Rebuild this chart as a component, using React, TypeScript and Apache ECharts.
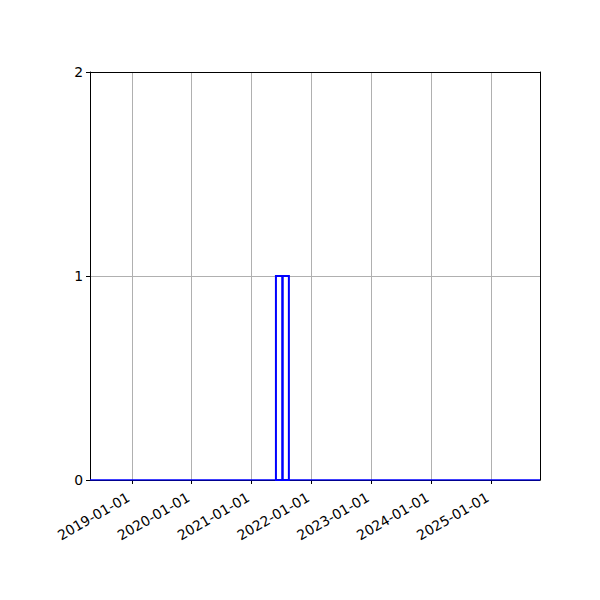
import React, { useEffect, useRef } from "react";
import * as echarts from "echarts";

const xRange = ["2018-04-20", "2025-10-27"];
const binStarts = ["2021-05-29", "2021-07-08"];
const binEnds = ["2021-07-08", "2021-08-16"];
const counts = [1, 1];
const yTicks = [0, 1, 2];

const FONT = "DejaVu Sans";
const GRID = "#b0b0b0";

export default function App() {
  const ref = useRef<HTMLDivElement>(null);
  useEffect(() => {
    document.body.style.margin = "0";
    const chart = echarts.init(ref.current!, null, { renderer: "svg" });
    const barData = binStarts.map((s, i) => [s, binEnds[i], counts[i]]);
    const YEAR = 365 * 24 * 3600 * 1000;
    chart.setOption({
      animation: false,
      backgroundColor: "#fff",
      grid: { left: 90, right: 60, top: 72, bottom: 120 },
      xAxis: [
        {
          type: "time",
          min: xRange[0],
          max: xRange[1],
          minInterval: YEAR,
          maxInterval: YEAR * 1.01,
          axisLine: { show: true, onZero: false, lineStyle: { color: "#000", width: 1 } },
          axisTick: { show: true, length: 4, lineStyle: { color: "#000" } },
          axisLabel: {
            formatter: "{yyyy}-{MM}-{dd}",
            rotate: 30,
            color: "#000",
            fontSize: 13.9,
            fontFamily: FONT,
            margin: 14,
            padding: [0, 4, 0, 0],
            showMinLabel: false,
            showMaxLabel: false,
          },
          splitLine: { show: true, lineStyle: { color: GRID, width: 1 } },
        },
        {
          type: "time",
          position: "top",
          min: xRange[0],
          max: xRange[1],
          axisLine: { show: true, onZero: false, lineStyle: { color: "#000", width: 1 } },
          axisTick: { show: false },
          axisLabel: { show: false },
          splitLine: { show: false },
        },
      ],
      yAxis: [
        {
          type: "value",
          min: yTicks[0],
          max: yTicks[yTicks.length - 1],
          interval: 1,
          axisLine: { show: true, lineStyle: { color: "#000", width: 1 } },
          axisTick: { show: true, length: 4, lineStyle: { color: "#000" } },
          axisLabel: { color: "#000", fontSize: 13.9, fontFamily: FONT, margin: 7 },
          splitLine: { show: true, lineStyle: { color: GRID, width: 1 } },
        },
        {
          type: "value",
          position: "right",
          min: yTicks[0],
          max: yTicks[yTicks.length - 1],
          axisLine: { show: true, lineStyle: { color: "#000", width: 1 } },
          axisTick: { show: false },
          axisLabel: { show: false },
          splitLine: { show: false },
        },
      ],
      series: [
        {
          type: "line",
          data: [
            [xRange[0], 0],
            [xRange[1], 0],
          ],
          symbol: "none",
          lineStyle: { color: "#0000ff", width: 1.5 },
          z: 5,
          silent: true,
        },
        {
          type: "custom",
          data: barData,
          encode: { x: [0, 1], y: 2 },
          z: 6,
          renderItem: (params: any, api: any) => {
            const p0 = api.coord([api.value(0), api.value(2)]);
            const p1 = api.coord([api.value(1), 0]);
            return {
              type: "rect",
              shape: { x: p0[0], y: p0[1], width: p1[0] - p0[0], height: p1[1] - p0[1] },
              style: { fill: "none", stroke: "#0000ff", lineWidth: 2 },
            };
          },
        },
      ],
    });
    return () => chart.dispose();
  }, []);
  return <div ref={ref} style={{ position: "absolute", left: 0, top: 0, width: 600, height: 600 }} />;
}
